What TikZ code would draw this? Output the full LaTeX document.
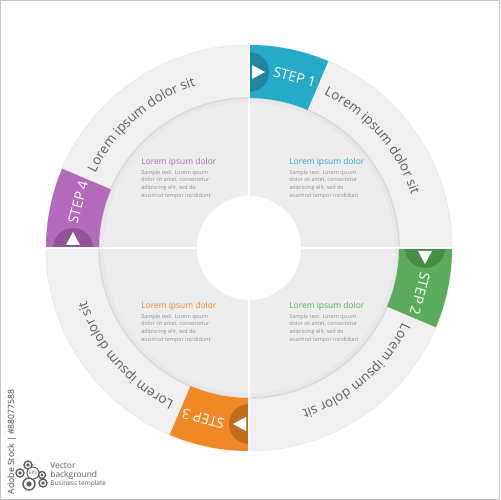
\documentclass[tikz,border=0pt]{standalone}
\usepackage{fontspec}
\setmainfont{Open Sans}
\usetikzlibrary{decorations.text}

\definecolor{tabblue}{RGB}{38,170,201}
\definecolor{tabgreen}{RGB}{90,172,92}
\definecolor{taborange}{RGB}{240,136,38}
\definecolor{tabpurple}{RGB}{179,106,186}
\definecolor{ringgray}{RGB}{240,240,240}
\definecolor{innergray}{RGB}{237,237,237}
\definecolor{loremgray}{RGB}{95,95,95}
\definecolor{bodygray}{RGB}{140,140,140}
\definecolor{logogray}{RGB}{95,95,95}

\newcommand{\ringfont}{\fontsize{7.6}{9}\selectfont}

\tikzset{
  steplabel/.style={text=white, font=\fontsize{8}{9}\selectfont, inner sep=0pt},
  infotitle/.style={font=\fontsize{4.8}{5.5}\selectfont, inner sep=0pt, anchor=base west},
  infobody/.style={font=\fontsize{3.1}{4.4}\selectfont, text=bodygray, inner sep=0pt, anchor=north west, align=left},
  gapline/.style={white, line width=1.7pt},
  logotext/.style={text=logogray, inner sep=0pt, anchor=west},
}

\begin{document}
\begin{tikzpicture}[x=0.02cm,y=0.02cm]
\useasboundingbox (0,0) rectangle (500,500);
\draw[black!22, line width=0.6pt] (0.5,0.5) rectangle (499.5,499.5);

\begin{scope}[shift={(249,252)}]
\fill[ringgray] (0,0) circle (203);
\draw[black!8, line width=0.5pt] (0,0) circle (203);
\fill[innergray] (0,0) circle (150);
\draw[black!9, line width=3pt] (0,0) circle (148);
\draw[black!15, line width=0.8pt] (0,0) circle (150);
\fill[white] (0,0) circle (52);
\foreach \ang/\col/\n in {0/tabblue/1,-90/tabgreen/2,-180/taborange/3,-270/tabpurple/4}{
  \begin{scope}[rotate=\ang]
    \fill[\col] (90:203) arc[start angle=90, end angle=67, radius=203] -- (67:150) arc[start angle=67, end angle=90, radius=150] -- cycle;
    \begin{scope}
      \clip (90:203) arc[start angle=90, end angle=67, radius=203] -- (67:150) arc[start angle=67, end angle=90, radius=150] -- cycle;
      \fill[\col!80!black] (90:176) circle (20);
    \end{scope}
    \fill[white] (3,169) -- (16,176) -- (3,183) -- cycle;
    \node[steplabel, rotate=\ang-15] (step\n) at (75:177) {STEP \n};
    \path[decorate, decoration={text along path, text align=left,
      text={|\ringfont\color{loremgray}|Lorem ipsum dolor sit}}]
      (64:171) arc[start angle=64, end angle=0, radius=171];
  \end{scope}
}
\draw[gapline] (0,-206) -- (0,206);
\draw[gapline] (-206,0) -- (206,0);
\end{scope}

\foreach \x/\y/\col/\q in {141/335/tabpurple/tl,289/335/tabblue/tr,141/191/taborange/bl,289/191/tabgreen/br}{
  \node[infotitle, text=\col] (title\q) at (\x,\y) {Lorem ipsum dolor};
  \node[infobody] (body\q) at ([yshift=-2.6pt]title\q.base west) {Sample text. Lorem ipsum\\dolor sit amet, consectetur\\adipiscing elit, sed do\\eiusmod tempor incididunt};
}

\node[rotate=90, font=\fontsize{4.9}{5}\selectfont, text=black!72, inner sep=0pt] (stockid) at (12,58) {Adobe Stock | \#88077588};

\foreach \cx/\cy/\cr in {28/35/4,20/27/4,42/25/3.5,43/17/4,29/16/6}{
  \draw[logogray, line width=0.8pt, fill=white] (\cx,\cy) circle (\cr);
  \fill[logogray] (\cx,\cy) circle (\cr*0.45);
}
\node[circle, draw=logogray, fill=white, line width=0.6pt, minimum size=12*0.02cm, inner sep=0pt, font=\fontsize{2.6}{3}\selectfont, text=logogray] (eps) at (33,27) {EPS};
\node[logotext, font=\fontsize{4.8}{5}\selectfont] (vec) at (50,34.5) {Vector};
\node[logotext, font=\fontsize{4.8}{5}\selectfont] (bg) at (50,25) {background};
\node[logotext, font=\fontsize{3.7}{4}\selectfont] (biz) at (50,16) {Business template};
\end{tikzpicture}
\end{document}
